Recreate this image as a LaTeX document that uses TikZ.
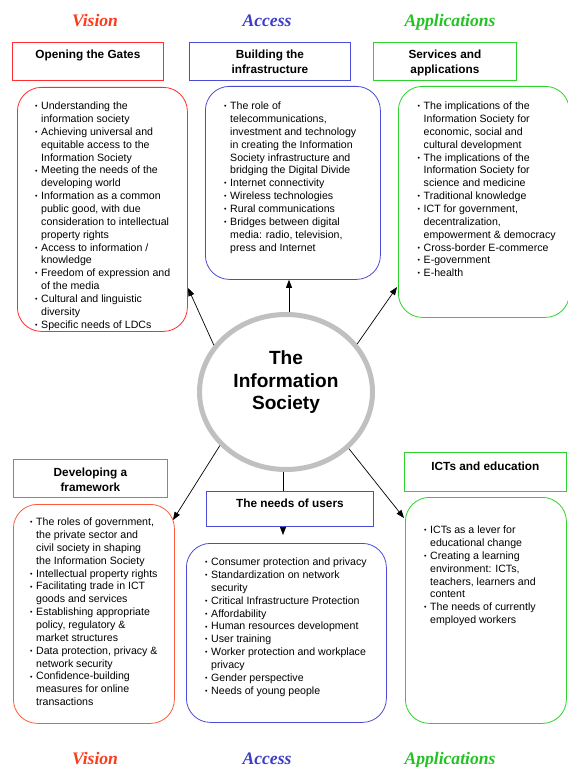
\documentclass[tikz,border=0pt]{standalone}
\usepackage{fontspec}
\setmainfont{Liberation Sans}
\newfontfamily\serifbi{Liberation Serif}
\usetikzlibrary{arrows.meta,shapes.geometric}
\definecolor{vistxt}{RGB}{250,60,30}
\definecolor{acctxt}{RGB}{60,60,200}
\definecolor{apptxt}{RGB}{35,195,35}
\definecolor{redc}{RGB}{255,45,45}
\definecolor{orc}{RGB}{255,90,60}
\definecolor{bluec}{RGB}{75,75,215}
\definecolor{greenc}{RGB}{45,210,45}
\definecolor{greyc}{RGB}{192,192,192}
\newcommand\bul{\llap{\raisebox{0.9pt}{\fontsize{7}{7}\selectfont •}\hspace{3.6pt}}}
\tikzset{
  rbox/.style={draw=#1, line width=0.8pt, rounded corners=24pt, anchor=north west, inner sep=0pt},
  hbox/.style={draw=#1, line width=0.8pt, anchor=north west, inner sep=0pt},
  lst/.style={anchor=north west, align=left, inner sep=0pt, font=\fontsize{10.6}{12.85}\selectfont},
  htxt/.style={anchor=north, align=center, inner sep=0pt, font=\bfseries\fontsize{11.8}{14.6}\selectfont},
  ttl/.style={anchor=base, inner sep=0pt, font=\serifbi\bfseries\itshape\fontsize{17.6}{20}\selectfont},
  arr/.style={-{Triangle[length=8pt,width=6pt]}, line width=0.7pt},
  plain/.style={line width=0.7pt}
}
\begin{document}
\begin{tikzpicture}[x=1pt,y=-1pt]
\useasboundingbox[fill=white] (0,0) rectangle (567,767);

% titles
\node[ttl, text=vistxt] (tv) at (95,26.5) {Vision};
\node[ttl, text=acctxt] (ta) at (267,26.5) {Access};
\node[ttl, text=apptxt] (tp) at (450,26.5) {Applications};
\node[ttl, text=vistxt] (bv) at (95,764.5) {Vision};
\node[ttl, text=acctxt] (ba) at (267,764.5) {Access};
\node[ttl, text=apptxt] (bp) at (450,764.5) {Applications};

% header boxes
\node[hbox=redc, minimum width=151pt, minimum height=38pt] (h1) at (12,42) {};
\node[hbox=bluec, minimum width=161pt, minimum height=38pt] (h2) at (189,42) {};
\node[hbox=greenc, minimum width=143pt, minimum height=38pt] (h3) at (373,42) {};
\node[hbox=orc, minimum width=154pt, minimum height=38pt] (h4) at (13,459) {};
\node[hbox=bluec, minimum width=167pt, minimum height=35pt] (h5) at (206,491) {};
\node[hbox=greenc, minimum width=162pt, minimum height=39pt] (h6) at (404,452) {};

\node[htxt] (h1t) at ([yshift=-6.3pt]h1.north) {\strut Opening the Gates};
\node[htxt] (h2t) at ([yshift=-6.3pt]h2.north) {\strut Building the\\infrastructure};
\node[htxt] (h3t) at ([yshift=-6.3pt]h3.north) {\strut Services and\\applications};
\node[htxt] (h4t) at ([yshift=-7pt]h4.north) {\strut Developing a\\framework};
\node[htxt] (h5t) at ([yshift=-6pt]h5.north) {\strut The needs of users};
\node[htxt] (h6t) at ([yshift=-8pt]h6.north) {\strut ICTs and education};

% rounded boxes
\node[rbox=redc, minimum width=170pt, minimum height=244pt] (lt) at (17,87) {};
\node[rbox=bluec, minimum width=175pt, minimum height=193pt] (mt) at (205,86) {};
\node[rbox=greenc, minimum width=171pt, minimum height=231pt] (rt) at (398,86) {};
\node[rbox=orc, minimum width=161pt, minimum height=219pt] (lb) at (13,504) {};
\node[rbox=bluec, minimum width=200pt, minimum height=179pt] (mb) at (186,543) {};
\node[rbox=greenc, minimum width=161pt, minimum height=226pt] (rb) at (405,497) {};

% lists
\node[lst] (ltx) at (41,100.5) {\strut\bul Understanding the\\information society\\
\bul Achieving universal and\\equitable access to the\\Information Society\\
\bul Meeting the needs of the\\developing world\\
\bul Information as a common\\public good, with due\\consideration to intellectual\\property rights\\
\bul Access to information /\\knowledge\\
\bul Freedom of expression and\\of the media\\
\bul Cultural and linguistic\\diversity\\
\bul Specific needs of LDCs};

\node[lst] (mtx) at (230,100.5) {\strut\bul The role of\\telecommunications,\\investment and technology\\in creating the Information\\Society infrastructure and\\bridging the Digital Divide\\
\bul Internet connectivity\\
\bul Wireless technologies\\
\bul Rural communications\\
\bul Bridges between digital\\media: radio, television,\\press and Internet};

\node[lst] (rtx) at (423.5,100.5) {\strut\bul The implications of the\\Information Society for\\economic, social and\\cultural development\\
\bul The implications of the\\Information Society for\\science and medicine\\
\bul Traditional knowledge\\
\bul ICT for government,\\decentralization,\\empowerment \& democracy\\
\bul Cross-border E-commerce\\
\bul E-government\\
\bul E-health};

\node[lst] (lbx) at (36,516.5) {\strut\bul The roles of government,\\the private sector and\\civil society in shaping\\the Information Society\\
\bul Intellectual property rights\\
\bul Facilitating trade in ICT\\goods and services\\
\bul Establishing appropriate\\policy, regulatory \&\\market structures\\
\bul Data protection, privacy \&\\network security\\
\bul Confidence-building\\measures for online\\transactions};

\node[lst] (mbx) at (211,556.5) {\strut\bul Consumer protection and privacy\\
\bul Standardization on network\\security\\
\bul Critical Infrastructure Protection\\
\bul Affordability\\
\bul Human resources development\\
\bul User training\\
\bul Worker protection and workplace\\privacy\\
\bul Gender perspective\\
\bul Needs of young people};

\node[lst] (rbx) at (430,524.5) {\strut\bul ICTs as a lever for\\educational change\\
\bul Creating a learning\\environment: ICTs,\\teachers, learners and\\content\\
\bul The needs of currently\\employed workers};

% central ellipse
\node[ellipse, draw=greyc, line width=5pt, minimum width=173pt, minimum height=155pt, inner sep=0pt] (circ) at (286,392) {};
\node[anchor=north, align=center, inner sep=0pt, font=\bfseries\fontsize{19.1}{22.5}\selectfont] (ctx) at (286,349) {\strut The\\Information\\Society};

% arrow ends
\coordinate (t1) at (188,288);
\coordinate (t3) at (397,287);
\coordinate (t4) at (173,520);
\coordinate (t5) at (283,535);
\coordinate (t6) at (404,518);

\draw[arr] (circ.147) -- (t1);
\draw[arr] ([xshift=3pt]circ.north) -- ([xshift=3pt]circ.north |- mt.south);
\draw[arr] (circ.34) -- (t3);
\draw[arr] (circ.219) -- (t4);
\draw[plain] ([xshift=-3pt]circ.south) -- ([xshift=-3pt]circ.south |- h5.north);
\draw[arr] (t5 |- h5.south) -- (t5);
\draw[arr] (circ.-42) -- (t6);
\end{tikzpicture}
\end{document}
